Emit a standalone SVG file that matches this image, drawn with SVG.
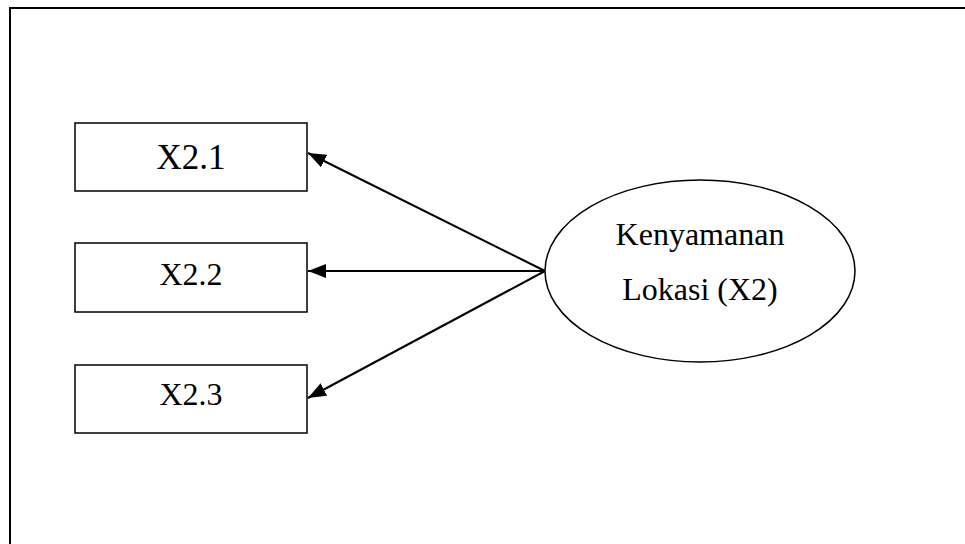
<svg xmlns="http://www.w3.org/2000/svg" width="965" height="544" viewBox="0 0 965 544">
<style>
.frame{fill:none;stroke:#000;stroke-width:2}
.box{fill:#fff;stroke:#000;stroke-width:1.5}
.lbl{font-family:"Liberation Serif","Times New Roman",serif;font-size:32px;fill:#000;text-anchor:middle}
.conn{stroke:#000;stroke-width:2;fill:none;marker-end:url(#ah)}
</style>
<defs>
<marker id="ah" markerUnits="userSpaceOnUse" viewBox="0 0 18 14" refX="18" refY="7" markerWidth="18" markerHeight="14" orient="auto">
<path d="M0,0 L18,7 L0,14 Z" fill="#000"/>
</marker>
</defs>
<rect width="965" height="544" fill="#fff"/>
<rect class="frame" x="10" y="8" width="1000" height="600"/>
<g id="connectors">
<line class="conn" x1="545" y1="271" x2="308" y2="153"/>
<line class="conn" x1="545" y1="271" x2="308" y2="271"/>
<line class="conn" x1="545" y1="271" x2="308" y2="398"/>
</g>
<g id="x21">
<rect class="box" x="75" y="123" width="232" height="68"/>
<text class="lbl" x="191" y="169" style="font-size:35px">X2.1</text>
</g>
<g id="x22">
<rect class="box" x="75" y="243" width="232" height="69"/>
<text class="lbl" x="191" y="285">X2.2</text>
</g>
<g id="x23">
<rect class="box" x="75" y="365" width="232" height="68"/>
<text class="lbl" x="191" y="405">X2.3</text>
</g>
<g id="x2">
<ellipse cx="700" cy="271" rx="155" ry="91" fill="#fff" stroke="#000" stroke-width="1.5"/>
<text class="lbl" x="700" y="245">Kenyamanan</text>
<text class="lbl" x="700" y="300">Lokasi (X2)</text>
</g>
</svg>
